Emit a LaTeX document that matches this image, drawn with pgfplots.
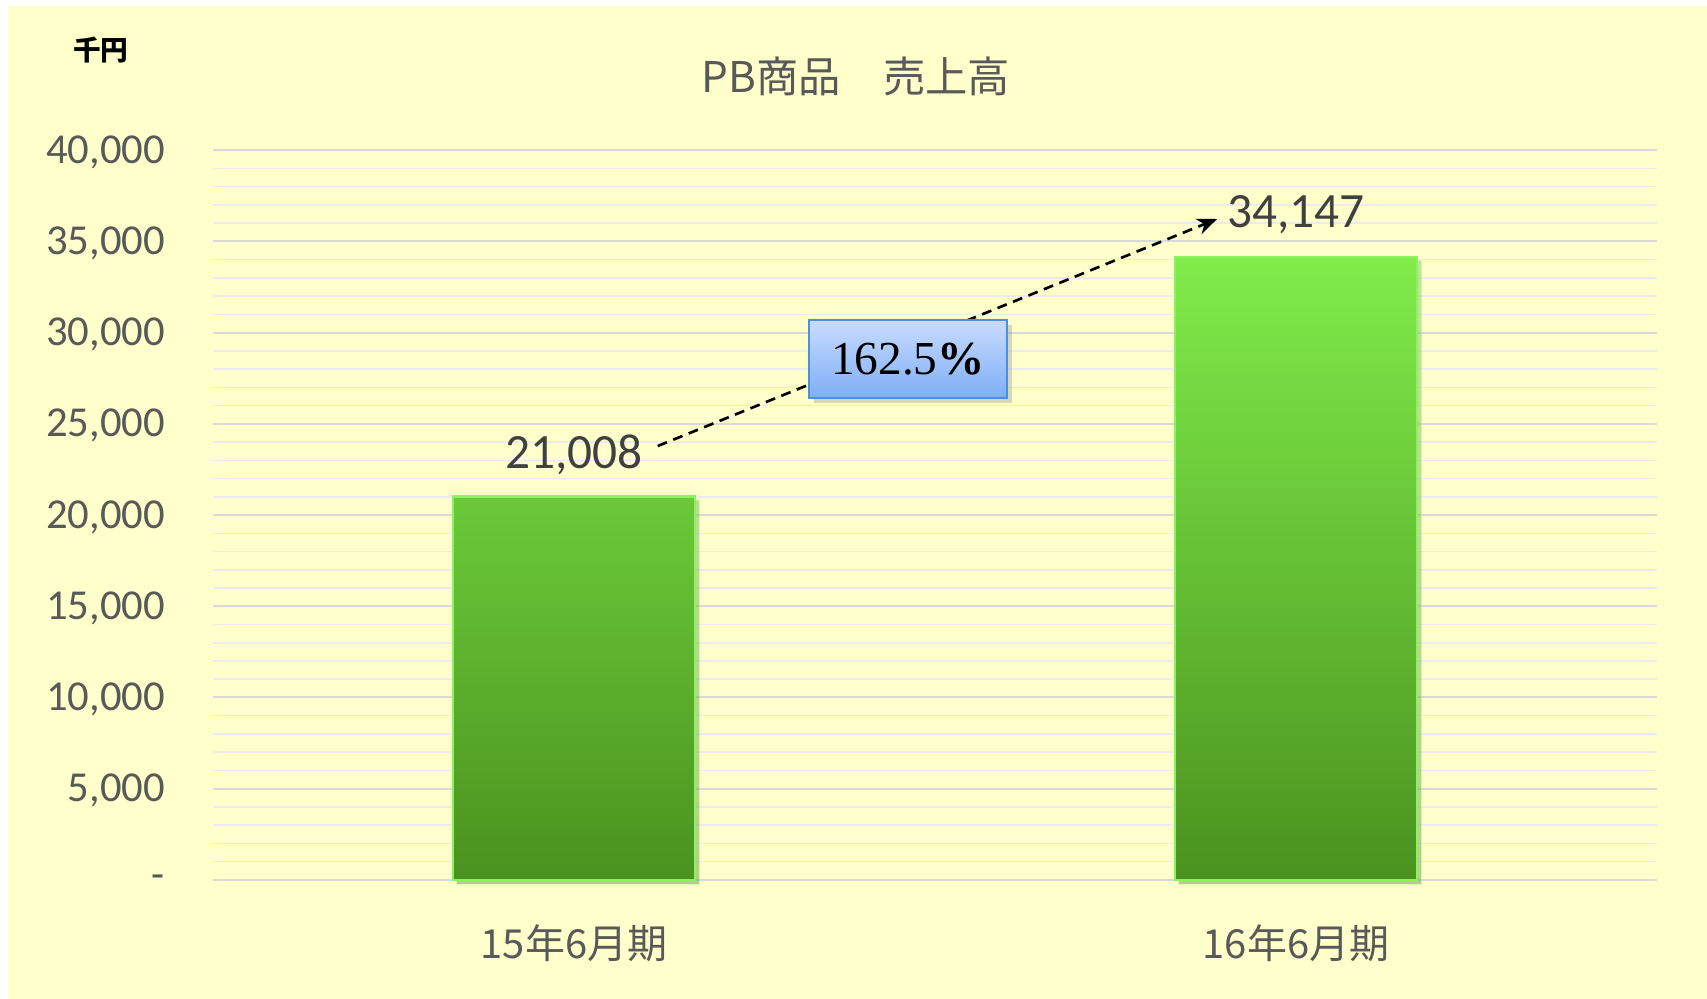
\documentclass[border=0pt]{standalone}
\usepackage{pgfplots}
\pgfplotsset{compat=1.18}
\usepackage{fontspec}
\usetikzlibrary{shadows,arrows.meta}
\setmainfont{Carlito}
\newfontfamily\jp{Noto Sans CJK JP}
\newfontfamily\serif{Liberation Serif}
\definecolor{bgY}{HTML}{FFFFCC}
\definecolor{txtG}{HTML}{595959}
\definecolor{lblG}{HTML}{404040}
\definecolor{gridMaj}{HTML}{D9D9D9}
\definecolor{gridMin}{HTML}{EBEBEE}
\definecolor{barTop}{HTML}{80EC4A}
\definecolor{barBot}{HTML}{4A921E}
\definecolor{barEdge}{HTML}{8CF25E}
\definecolor{boxTop}{HTML}{C8DCFF}
\definecolor{boxBot}{HTML}{7FAEF6}
\definecolor{boxEdge}{HTML}{4A8FE0}
\begin{document}
\begin{tikzpicture}
\useasboundingbox (-63.9pt,-35.7pt) rectangle (448.2pt,264pt);
\fill[white] (-63.9pt,-35.7pt) rectangle (448.2pt,264pt);
\fill[bgY] (-61.5pt,-35.7pt) rectangle (448.2pt,262.2pt);
\begin{axis}[
  at={(0,0)}, anchor=south west,
  scale only axis,
  width=433.2pt, height=219pt,
  xmin=-0.5, xmax=1.5,
  ymin=0, ymax=40000,
  scaled y ticks=false,
  axis line style={draw=none},
  major tick length=0pt, minor tick length=0pt,
  xtick={0,1},
  xticklabels={15年6月期,16年6月期},
  xticklabel style={font=\jp\fontsize{12}{14}\selectfont, text=txtG, anchor=center, inner sep=0pt, yshift=-18.9pt},
  ytick={0,5000,10000,15000,20000,25000,30000,35000,40000},
  yticklabels={{-},{5,000},{10,000},{15,000},{20,000},{25,000},{30,000},{35,000},{40,000}},
  yticklabel style={font=\fontsize{12.8}{14}\selectfont, text=txtG, anchor=east, inner sep=0pt, xshift=-14.2pt, yshift=-0.6pt},
  minor y tick num=4,
  ymajorgrids, yminorgrids,
  major grid style={gridMaj, line width=0.6pt},
  minor grid style={gridMin, line width=0.45pt},
  clip=false,
]
\addplot[ybar, bar width=72.6pt, draw=barEdge, line width=0.7pt,
  top color=barTop, bottom color=barBot,
  drop shadow={shadow xshift=1.2pt, shadow yshift=-1.2pt, opacity=0.25},
  nodes near coords={\pgfmathprintnumber[fixed,precision=0,1000 sep={,},assume math mode=true]{\pgfplotspointmeta}},
  every node near coord/.append style={font=\fontsize{14.8}{16}\selectfont, text=lblG, anchor=center, yshift=12.6pt}]
  coordinates {(0,21008) (1,34147)};
\draw[densely dashed, line width=0.8pt, black, -{Stealth[length=6pt,width=5pt]}]
  (axis cs:0.116,23781) -- (axis cs:0.8906,36219);
\node[draw=boxEdge, line width=0.6pt, top color=boxTop, bottom color=boxBot,
  minimum width=59.4pt, minimum height=23.4pt, inner sep=0pt,
  drop shadow={shadow xshift=1.5pt, shadow yshift=-1.5pt, opacity=0.3}]
  at (axis cs:0.4626,28548) {\serif\fontsize{14.2}{16}\selectfont 162.5\textbf{\%}};
\end{axis}
\node[font=\jp\fontsize{12.7}{15}\selectfont, text=txtG] at (192.9pt,241.2pt) {PB商品　売上高};
\node[font=\jp\bfseries\fontsize{8.3}{10}\selectfont, text=black] at (-33.6pt,249pt) {千円};
\end{tikzpicture}
\end{document}
